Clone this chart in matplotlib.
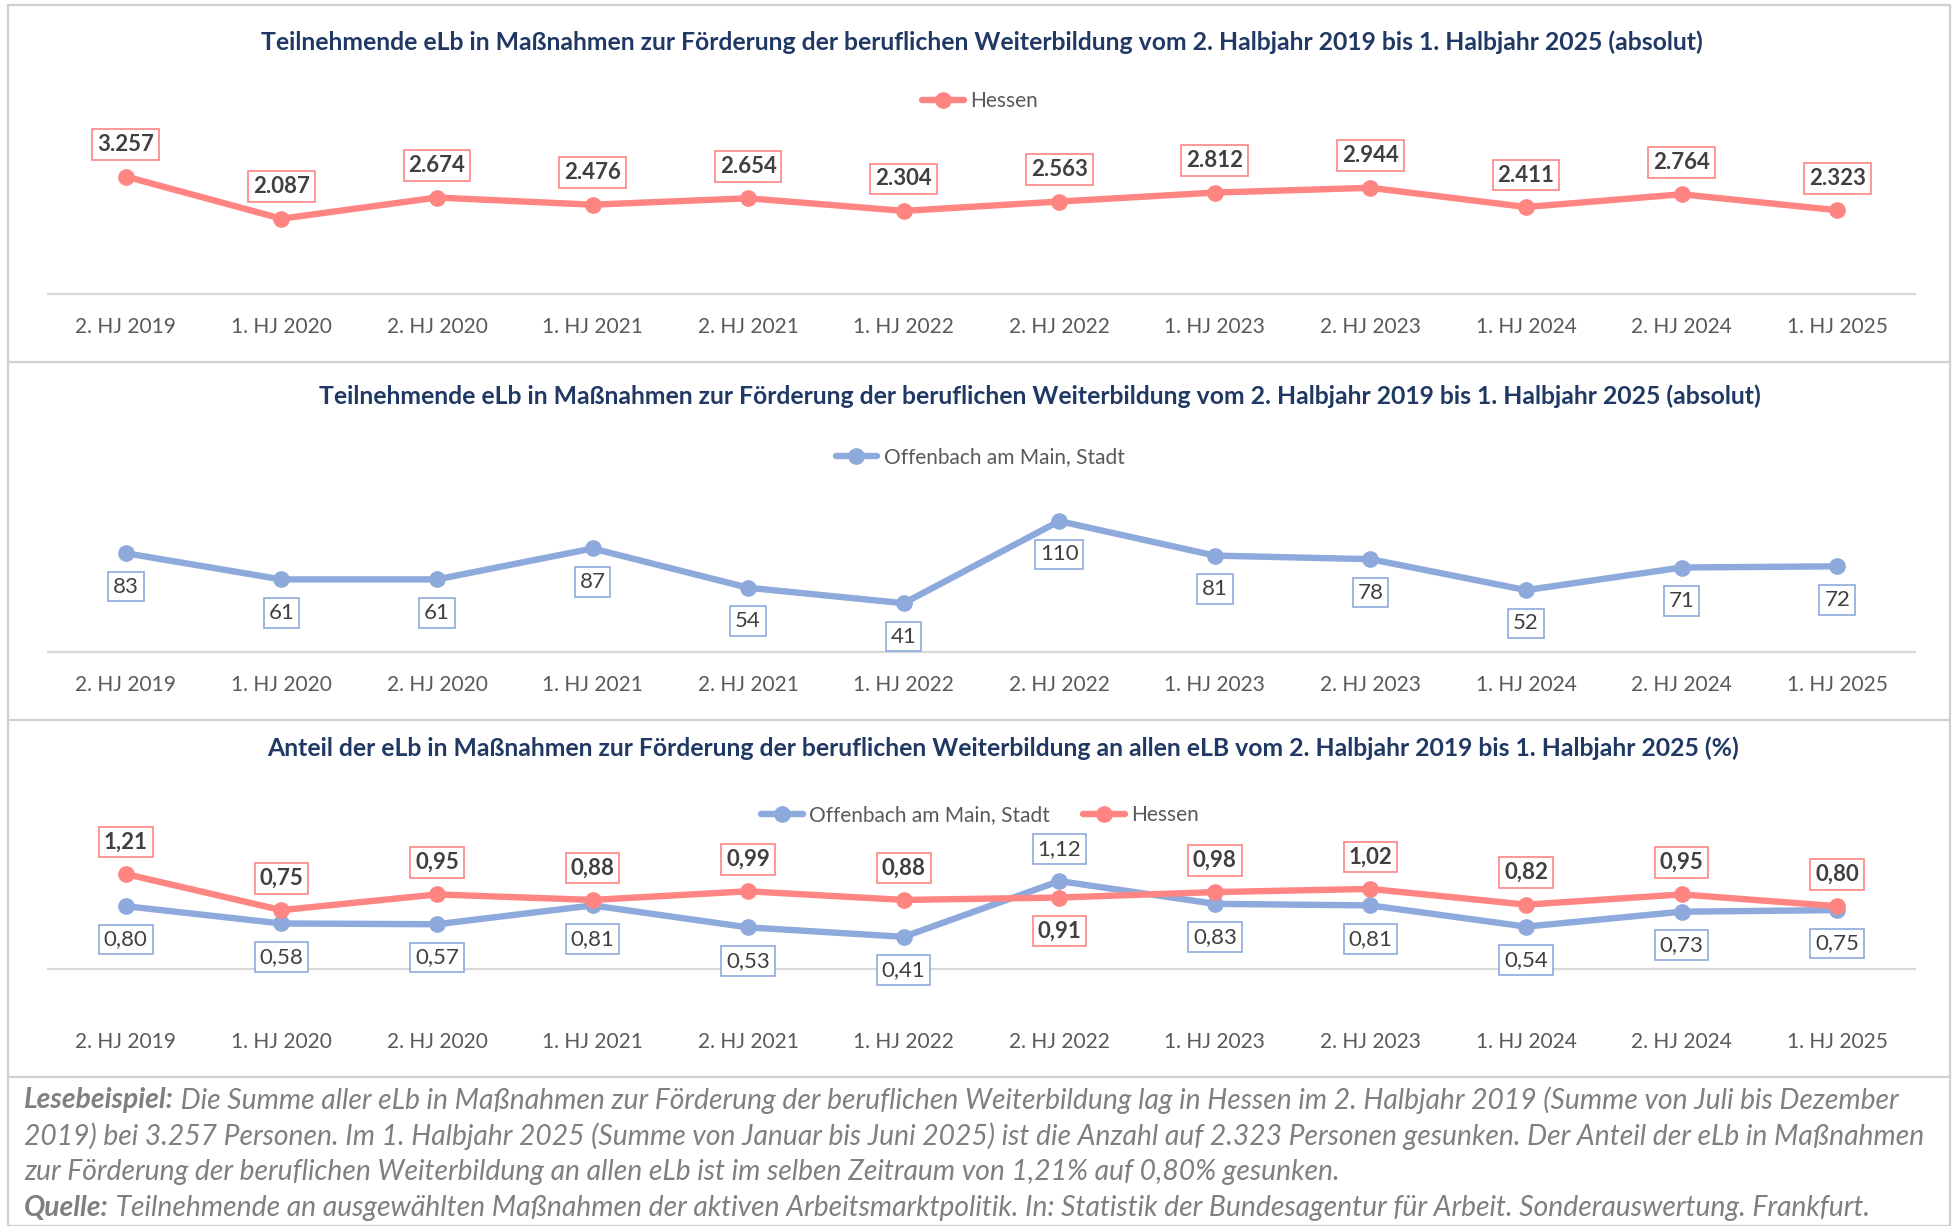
import matplotlib
matplotlib.use("Agg")
import matplotlib.pyplot as plt
from matplotlib.lines import Line2D

plt.rcParams['font.family'] = ['Lato', 'DejaVu Sans']

periods = ["2. HJ 2019", "1. HJ 2020", "2. HJ 2020", "1. HJ 2021", "2. HJ 2021", "1. HJ 2022",
           "2. HJ 2022", "1. HJ 2023", "2. HJ 2023", "1. HJ 2024", "2. HJ 2024", "1. HJ 2025"]
hessen_abs = [3257, 2087, 2674, 2476, 2654, 2304, 2563, 2812, 2944, 2411, 2764, 2323]
offenbach_abs = [83, 61, 61, 87, 54, 41, 110, 81, 78, 52, 71, 72]
offenbach_pct = [0.80, 0.58, 0.57, 0.81, 0.53, 0.41, 1.12, 0.83, 0.81, 0.54, 0.73, 0.75]
hessen_pct = [1.21, 0.75, 0.95, 0.88, 0.99, 0.88, 0.91, 0.98, 1.02, 0.82, 0.95, 0.80]

titles = [
    "Teilnehmende eLb in Maßnahmen zur Förderung der beruflichen Weiterbildung vom 2. Halbjahr 2019 bis 1. Halbjahr 2025 (absolut)",
    "Teilnehmende eLb in Maßnahmen zur Förderung der beruflichen Weiterbildung vom 2. Halbjahr 2019 bis 1. Halbjahr 2025 (absolut)",
    "Anteil der eLb in Maßnahmen zur Förderung der beruflichen Weiterbildung an allen eLB vom 2. Halbjahr 2019 bis 1. Halbjahr 2025 (%)",
]
notes = [
    ("Lesebeispiel:", " Die Summe aller eLb in Maßnahmen zur Förderung der beruflichen Weiterbildung lag in Hessen im 2. Halbjahr 2019 (Summe von Juli bis Dezember"),
    ("", "2019) bei 3.257 Personen. Im 1. Halbjahr 2025 (Summe von Januar bis Juni 2025) ist die Anzahl auf 2.323 Personen gesunken. Der Anteil der eLb in Maßnahmen"),
    ("", "zur Förderung der beruflichen Weiterbildung an allen eLb ist im selben Zeitraum von 1,21% auf 0,80% gesunken."),
    ("Quelle:", " Teilnehmende an ausgewählten Maßnahmen der aktiven Arbeitsmarktpolitik. In: Statistik der Bundesagentur für Arbeit. Sonderauswertung. Frankfurt."),
]

RED = "#FF8583"
BLUE = "#8EA9DB"
NAVY = "#1F3864"
GRID = "#D9D9D9"
TICK = "#595959"
LABEL = "#404040"

W, H = 1959, 1226
fig = plt.figure(figsize=(W / 100, H / 100), dpi=100)


def fx(px):
    return px / W


def fy(py):
    return 1 - py / H


def de_int(v):
    return f"{v:,}".replace(",", ".")


def de_pct(v):
    return f"{v:.2f}".replace(".", ",")


def make_ax(axis_px, top_px, ymax, pad):
    ax = fig.add_axes([fx(48), fy(axis_px), fx(1915) - fx(48), (axis_px - top_px) / H])
    x = range(len(periods))
    ax.set_xlim(-0.5, len(periods) - 0.5)
    ax.set_ylim(0, ymax)
    ax.set_xticks(list(x))
    ax.set_xticklabels(periods, fontsize=15, color=TICK)
    ax.set_yticks([])
    ax.tick_params(axis='x', length=0, pad=pad)
    for s in ['top', 'left', 'right']:
        ax.spines[s].set_visible(False)
    ax.spines['bottom'].set_color(GRID)
    ax.spines['bottom'].set_linewidth(1.6)
    ax.patch.set_alpha(0)
    return ax


def plot_series(ax, values, color, name):
    return ax.plot(range(len(values)), values, color=color, lw=4.6, marker='o', ms=11,
                   label=name, solid_capstyle='round', zorder=3)[0]


def put_labels(ax, values, fmt, color, above, bold):
    for i, v in enumerate(values):
        up = above[i] if isinstance(above, list) else above
        ax.annotate(fmt(v), (i, v), xytext=(0, 23 if up else -24), textcoords='offset points',
                    ha='center', va='center', fontsize=16, color=LABEL,
                    fontweight='bold' if bold else 'normal', zorder=5,
                    bbox=dict(boxstyle='square,pad=0.22', fc='white', ec=color, lw=1.2))


def legend(ax, handles, ypx):
    ax.legend(handles=handles, loc='center', bbox_to_anchor=(fx(980), fy(ypx)),
              bbox_transform=fig.transFigure, ncol=len(handles), frameon=False,
              fontsize=15, labelcolor=TICK, handlelength=2.0, handletextpad=0.3,
              columnspacing=1.6)


# panel 1
ax1 = make_ax(294, 126, 163 / 0.035, 16.5)
h = plot_series(ax1, hessen_abs, RED, "Hessen")
put_labels(ax1, hessen_abs, de_int, RED, True, True)
legend(ax1, [h], 101)
fig.text(fx(982), fy(42), titles[0], ha='center', va='center', fontsize=17.8, fontweight='bold', color=NAVY)

# panel 2
ax2 = make_ax(652, 485, 167 / 1.19, 16.5)
b = plot_series(ax2, offenbach_abs, BLUE, "Offenbach am Main, Stadt")
put_labels(ax2, offenbach_abs, de_int, BLUE, False, False)
legend(ax2, [b], 457)
fig.text(fx(1040), fy(396), titles[1], ha='center', va='center', fontsize=17.8, fontweight='bold', color=NAVY)

# panel 3
ax3 = make_ax(969, 840, 129 / 78.5, 45)
b = plot_series(ax3, offenbach_pct, BLUE, "Offenbach am Main, Stadt")
h = plot_series(ax3, hessen_pct, RED, "Hessen")
blue_up = [v > r for v, r in zip(offenbach_pct, hessen_pct)]
put_labels(ax3, offenbach_pct, de_pct, BLUE, blue_up, False)
put_labels(ax3, hessen_pct, de_pct, RED, [not u for u in blue_up], True)
legend(ax3, [b, h], 815)
fig.text(fx(1003), fy(748), titles[2], ha='center', va='center', fontsize=17.8, fontweight='bold', color=NAVY)

# frame lines
frame = dict(color="#D0D0D0", lw=1.6, transform=fig.transFigure)
fig.add_artist(Line2D([fx(8), fx(1950), fx(1950), fx(8), fx(8)], [fy(5), fy(5), fy(1226), fy(1226), fy(5)], **frame))
for ypx in [362, 720, 1077]:
    fig.add_artist(Line2D([fx(8), fx(1950)], [fy(ypx), fy(ypx)], **frame))

# reading example and source
renderer = fig.canvas.get_renderer()
for k, (bold, rest) in enumerate(notes):
    y = fy(1100 + 36 * k)
    x = fx(24)
    if bold:
        t = fig.text(x, y, bold, ha='left', va='center', fontsize=20.3, style='italic',
                     fontweight='bold', color="#7F7F7F")
        x = t.get_window_extent(renderer).x1 / W
    fig.text(x, y, rest, ha='left', va='center', fontsize=20.3, style='italic', color="#7F7F7F")

fig.savefig("out.png", dpi=100)
